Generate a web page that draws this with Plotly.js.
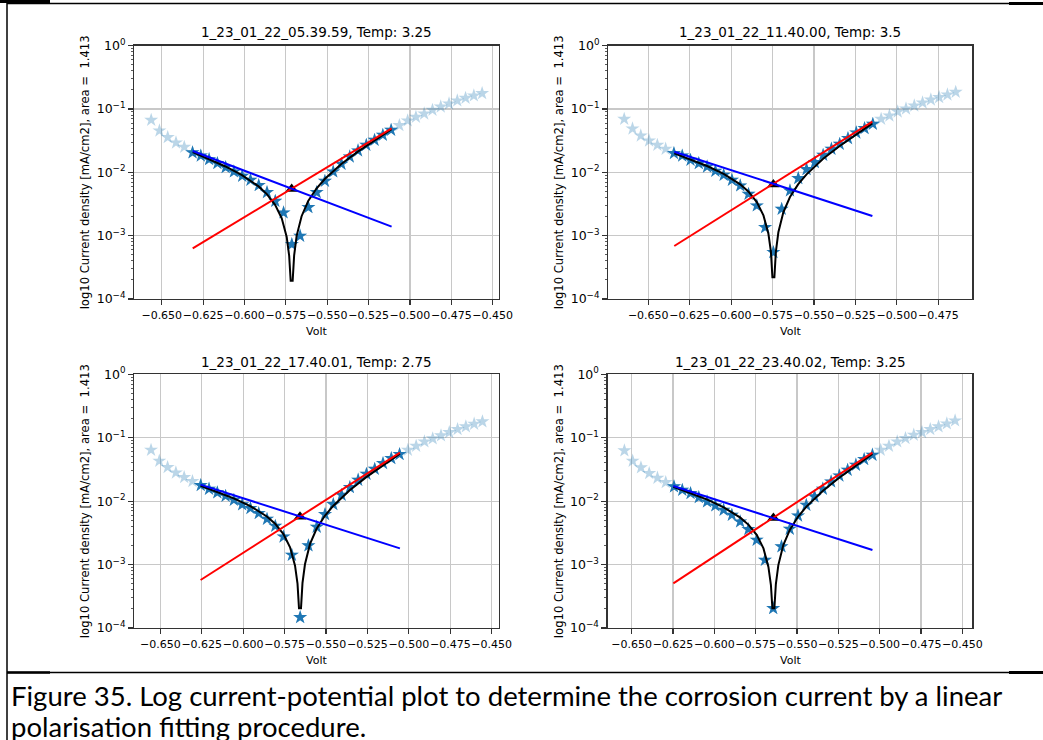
<!DOCTYPE html>
<html>
<head>
<meta charset="utf-8">
<script src="https://cdn.plot.ly/plotly-3.0.1.min.js"></script>
<style>
  html, body { margin: 0; padding: 0; background: #ffffff; }
  #chart { width: 1043px; height: 740px; }
</style>
</head>
<body>
<div id="chart"></div>
<script>
// ---------------- DATA ----------------
const titles = [
  "1_23_01_22_05.39.59, Temp: 3.25",
  "1_23_01_22_11.40.00, Temp: 3.5",
  "1_23_01_22_17.40.01, Temp: 2.75",
  "1_23_01_22_23.40.02, Temp: 3.25"
];
const xLabel = "Volt";
const yLabel = "log10 Current density [mA/cm2], area =\u00a0 1.413";
const caption1 = "Figure 35. Log current-potential plot to determine the corrosion current by a linear";
const caption2 = "polarisation fitting procedure.";
const xTickVals = [-0.650, -0.625, -0.600, -0.575, -0.550, -0.525, -0.500, -0.475, -0.450];
const yTickVals = [1, 0.1, 0.01, 0.001, 0.0001];
const yTickText = ["10<sup>0</sup>", "10<sup>\u22121</sup>", "10<sup>\u22122</sup>", "10<sup>\u22123</sup>", "10<sup>\u22124</sup>"];

// ---- plot 1 ----
const p1Volt = [-0.6564,-0.6514,-0.6464,-0.6414,-0.6364,
  -0.6314,-0.6264,-0.6214,-0.6164,-0.6114,-0.6064,-0.6014,-0.5964,-0.5914,-0.5864,-0.5814,-0.5764,-0.5714,-0.5664,-0.5614,-0.5564,-0.5514,-0.5464,-0.5414,-0.5364,-0.5314,-0.5264,-0.5214,-0.5164,-0.5114,
  -0.5064,-0.5014,-0.4964,-0.4914,-0.4864,-0.4814,-0.4764,-0.4714,-0.4664,-0.4614,-0.4564];
const p1Current = [0.0670,0.0455,0.0357,0.0294,0.0251,
  0.0205,0.0183,0.0160,0.0139,0.0120,0.01025,0.00875,0.00757,0.00624,0.00483,0.00352,0.00231,0.00073,0.00099,0.0028,0.00483,0.0073,0.01025,0.01355,0.01767,0.0220,0.0270,0.0324,0.0388,0.0466,
  0.0552,0.0655,0.0748,0.0844,0.0964,0.1089,0.1214,0.1355,0.149,0.1625,0.1767];
const p1Fit = [5, 29];
const p1CurveVolt = [-0.6313,-0.6215,-0.6115,-0.6015,-0.5915,-0.5865,-0.5815,-0.5775,-0.5745,-0.5730,-0.5721,-0.5709,-0.5700,-0.5685,-0.5655,-0.5615,-0.5565,-0.5515,-0.5415,-0.5315,-0.5215,-0.5111];
const p1CurveCurrent = [0.0209,0.0163,0.01239,0.00903,0.0060,0.00454,0.00307,0.00188,0.000954,0.00048,0.000194,0.000194,0.00049,0.000993,0.00203,0.00352,0.00555,0.00785,0.01352,0.02121,0.0319,0.048];
const p1AnodicVolt = [-0.6313, -0.5111];
const p1AnodicCurrent = [0.000631, 0.0495];
const p1CathodicVolt = [-0.6313, -0.5111];
const p1CathodicCurrent = [0.0217, 0.001387];
const p1Corr = [-0.5715, 0.00546];

// ---- plot 2 ----
const p2Volt = [-0.6645,-0.6595,-0.6545,-0.6495,-0.6445,-0.6395,
  -0.6345,-0.6295,-0.6245,-0.6195,-0.6145,-0.6095,-0.6045,-0.5995,-0.5945,-0.5895,-0.5845,-0.5795,-0.5745,-0.5695,-0.5645,-0.5595,-0.5545,-0.5495,-0.5445,-0.5395,-0.5345,-0.5295,-0.5245,-0.5195,-0.5145,
  -0.5095,-0.5045,-0.4995,-0.4945,-0.4895,-0.4845,-0.4795,-0.4745,-0.4695,-0.4645];
const p2Current = [0.0695,0.0489,0.0379,0.0316,0.0270,0.0234,
  0.0200,0.0183,0.01566,0.01387,0.01228,0.0105,0.00908,0.00757,0.00616,0.00455,0.00298,0.001355,0.000546,0.002636,0.00514,0.00804,0.01115,0.01439,0.0188,0.0234,0.0280,0.0344,0.0423,0.0495,0.0580,
  0.0695,0.0785,0.0908,0.1012,0.1129,0.1259,0.1404,0.1528,0.1683,0.1855];
const p2Fit = [6, 30];
const p2CurveVolt = [-0.6343,-0.6245,-0.6145,-0.6045,-0.5945,-0.5895,-0.5845,-0.5805,-0.5775,-0.5760,-0.5751,-0.5739,-0.5730,-0.5715,-0.5685,-0.5645,-0.5595,-0.5545,-0.5445,-0.5345,-0.5245,-0.5148];
const p2CurveCurrent = [0.01994,0.01605,0.01258,0.00944,0.00646,0.00495,0.0034,0.00209,0.00107,0.00056,0.00022,0.00022,0.00056,0.00113,0.00234,0.00408,0.00652,0.0093,0.01635,0.0261,0.040,0.0593];
const p2AnodicVolt = [-0.6343, -0.5148];
const p2AnodicCurrent = [0.000687, 0.0631];
const p2CathodicVolt = [-0.6343, -0.5148];
const p2CathodicCurrent = [0.0212, 0.00205];
const p2Corr = [-0.5745, 0.0064];

// ---- plot 3 ----
const p3Volt = [-0.6556,-0.6506,-0.6456,-0.6406,-0.6356,-0.6306,
  -0.6256,-0.6206,-0.6156,-0.6106,-0.6056,-0.6006,-0.5956,-0.5906,-0.5856,-0.5806,-0.5756,-0.5706,-0.5656,-0.5606,-0.5556,-0.5506,-0.5456,-0.5406,-0.5356,-0.5306,-0.5256,-0.5206,-0.5156,-0.5106,-0.5056,
  -0.5006,-0.4956,-0.4906,-0.4856,-0.4806,-0.4756,-0.4706,-0.4656,-0.4606,-0.4556];
const p3Current = [0.0641,0.0430,0.0342,0.0281,0.0238,0.0206,
  0.01778,0.01556,0.01362,0.01206,0.01043,0.00881,0.00771,0.00643,0.00523,0.00406,0.00275,0.001416,0.000147,0.00199,0.00392,0.0062,0.00891,0.0125,0.01652,0.0216,0.0268,0.0321,0.0395,0.0473,0.0548,
  0.0641,0.0741,0.0867,0.0968,0.1079,0.1217,0.1358,0.1496,0.1648,0.1794];
const p3Fit = [6, 30];
const p3CurveVolt = [-0.6257,-0.6157,-0.6057,-0.5957,-0.5857,-0.5807,-0.5757,-0.5717,-0.5687,-0.5672,-0.5663,-0.5651,-0.5642,-0.5627,-0.5597,-0.5557,-0.5507,-0.5457,-0.5357,-0.5257,-0.5157,-0.5054];
const p3CurveCurrent = [0.0175,0.01407,0.01108,0.00835,0.00573,0.00441,0.00303,0.00187,0.00096,0.00050,0.000204,0.000204,0.00051,0.00101,0.0021,0.00367,0.00588,0.00841,0.01485,0.02388,0.0368,0.0561];
const p3AnodicVolt = [-0.6257, -0.5054];
const p3AnodicCurrent = [0.000571, 0.0582];
const p3CathodicVolt = [-0.6257, -0.5054];
const p3CathodicCurrent = [0.0182, 0.0018];
const p3Corr = [-0.5657, 0.0057];

// ---- plot 4 ----
const p4Volt = [-0.6544,-0.6494,-0.6444,-0.6394,-0.6344,-0.6294,
  -0.6244,-0.6194,-0.6144,-0.6094,-0.6044,-0.5994,-0.5944,-0.5894,-0.5844,-0.5794,-0.5744,-0.5694,-0.5644,-0.5594,-0.5544,-0.5494,-0.5444,-0.5394,-0.5344,-0.5294,-0.5244,-0.5194,-0.5144,-0.5094,-0.5044,
  -0.4994,-0.4944,-0.4894,-0.4844,-0.4794,-0.4744,-0.4694,-0.4644,-0.4594,-0.4544];
const p4Current = [0.0626,0.0430,0.0338,0.0275,0.0232,0.0198,
  0.01694,0.0150,0.0133,0.01149,0.00982,0.00849,0.00726,0.00605,0.00475,0.0036,0.00244,0.00118,0.000204,0.00192,0.00364,0.0059,0.0087,0.01178,0.01556,0.0203,0.0252,0.031,0.0372,0.0457,0.0535,
  0.0641,0.0741,0.0867,0.098,0.1105,0.1217,0.1358,0.1496,0.1667,0.1859];
const p4Fit = [6, 30];
const p4CurveVolt = [-0.6248,-0.6143,-0.6043,-0.5943,-0.5843,-0.5793,-0.5743,-0.5703,-0.5673,-0.5658,-0.5649,-0.5637,-0.5628,-0.5613,-0.5583,-0.5543,-0.5493,-0.5443,-0.5343,-0.5243,-0.5143,-0.5044];
const p4CurveCurrent = [0.01686,0.01342,0.01057,0.00798,0.00549,0.00423,0.00291,0.0018,0.00092,0.00048,0.000204,0.000204,0.00049,0.00098,0.00203,0.00355,0.00571,0.00821,0.0146,0.02364,0.0367,0.0555];
const p4AnodicVolt = [-0.6248, -0.5044];
const p4AnodicCurrent = [0.000506, 0.0582];
const p4CathodicVolt = [-0.6248, -0.5044];
const p4CathodicCurrent = [0.01734, 0.0017];
const p4Corr = [-0.5643, 0.0054];

// ---------------- LAYOUT GEOMETRY (pixels in the 1043x740 page) ----------------
const W = 1043, H = 740;
const FONT = "DejaVu Sans";
const panels = [
  {volt:p1Volt, cur:p1Current, fit:p1Fit, cv:p1CurveVolt, cc:p1CurveCurrent, av:p1AnodicVolt, ac:p1AnodicCurrent, kv:p1CathodicVolt, kc:p1CathodicCurrent, corr:p1Corr,
   box:[134.3, 499.0, 45.7, 299.0], xr:[-0.6666, -0.4462], titleY:32, voltY:331, ylabX:85},
  {volt:p2Volt, cur:p2Current, fit:p2Fit, cv:p2CurveVolt, cc:p2CurveCurrent, av:p2AnodicVolt, ac:p2AnodicCurrent, kv:p2CathodicVolt, kc:p2CathodicCurrent, corr:p2Corr,
   box:[608.3, 972.3, 45.7, 299.0], xr:[-0.6741, -0.4545], titleY:32, voltY:331, ylabX:559},
  {volt:p3Volt, cur:p3Current, fit:p3Fit, cv:p3CurveVolt, cc:p3CurveCurrent, av:p3AnodicVolt, ac:p3AnodicCurrent, kv:p3CathodicVolt, kc:p3CathodicCurrent, corr:p3Corr,
   box:[134.3, 499.0, 374.3, 628.0], xr:[-0.6657, -0.4456], titleY:362, voltY:660, ylabX:85},
  {volt:p4Volt, cur:p4Current, fit:p4Fit, cv:p4CurveVolt, cc:p4CurveCurrent, av:p4AnodicVolt, ac:p4AnodicCurrent, kv:p4CathodicVolt, kc:p4CathodicCurrent, corr:p4Corr,
   box:[607.7, 972.3, 374.3, 628.0], xr:[-0.6645, -0.4440], titleY:362, voltY:660, ylabX:559}
];

const px = v => v / W;
const py = v => 1 - v / H;

const minorVals = [];
[0.0001, 0.001, 0.01, 0.1].forEach(d => { for (let k = 2; k <= 9; k++) minorVals.push(k * d); });

const traces = [];
const layout = {
  width: W, height: H,
  margin: {l: 0, r: 0, t: 0, b: 0},
  paper_bgcolor: "#ffffff", plot_bgcolor: "#ffffff",
  showlegend: false,
  font: {family: FONT, color: "#000"},
  annotations: [], shapes: []
};

panels.forEach((p, i) => {
  const n = i === 0 ? "" : String(i + 1);
  const xa = "x" + n, ya = "y" + n;
  traces.push({type: "scatter", mode: "markers", x: p.volt, y: p.cur, xaxis: xa, yaxis: ya,
    marker: {symbol: "star", size: 10.5, color: "rgba(31,119,180,0.3)", line: {width: 0}}, hoverinfo: "skip"});
  traces.push({type: "scatter", mode: "markers", x: p.volt.slice(p.fit[0], p.fit[1] + 1), y: p.cur.slice(p.fit[0], p.fit[1] + 1), xaxis: xa, yaxis: ya,
    marker: {symbol: "star", size: 10.5, color: "#1f77b4", line: {width: 0}}, hoverinfo: "skip"});
  traces.push({type: "scatter", mode: "lines", x: p.cv, y: p.cc, xaxis: xa, yaxis: ya,
    line: {color: "#000000", width: 2}, hoverinfo: "skip"});
  traces.push({type: "scatter", mode: "markers", x: [p.corr[0]], y: [p.corr[1]], xaxis: xa, yaxis: ya,
    marker: {symbol: "triangle-up", size: 11, color: "#000000"}, hoverinfo: "skip"});
  traces.push({type: "scatter", mode: "lines", x: p.av, y: p.ac, xaxis: xa, yaxis: ya,
    line: {color: "#ff0000", width: 2}, hoverinfo: "skip"});
  traces.push({type: "scatter", mode: "lines", x: p.kv, y: p.kc, xaxis: xa, yaxis: ya,
    line: {color: "#0000ff", width: 2}, hoverinfo: "skip"});

  const [l, r, t, b] = p.box;
  layout["xaxis" + n] = {
    domain: [px(l), px(r)], anchor: ya, range: p.xr,
    tickmode: "array", tickvals: xTickVals, tickformat: ".3f", tickangle: 0,
    ticks: "outside", ticklen: 5, tickwidth: 1.1, tickcolor: "#333",
    showline: true, mirror: true, linecolor: "#333", linewidth: 1.3,
    showgrid: true, gridcolor: "#c8c8c8", gridwidth: 1.2, zeroline: false,
    tickfont: {family: FONT, size: 11, color: "#000"}, fixedrange: true
  };
  layout["yaxis" + n] = {
    domain: [py(b), py(t)], anchor: xa, type: "log", range: [-4, 0],
    tickmode: "array", tickvals: yTickVals, ticktext: yTickText,
    ticks: "outside", ticklen: 5, tickwidth: 1.1, tickcolor: "#333",
    minor: {tickmode: "array", tickvals: minorVals, ticks: "outside", ticklen: 2.5, tickwidth: 0.8, tickcolor: "#333", showgrid: false},
    showline: true, mirror: true, linecolor: "#333", linewidth: 1.3,
    showgrid: true, gridcolor: "#c8c8c8", gridwidth: 1.2, zeroline: false,
    tickfont: {family: FONT, size: 12.5, color: "#000"}, fixedrange: true
  };
  const cx = (l + r) / 2;
  layout.annotations.push({text: titles[i], xref: "paper", yref: "paper", x: px(cx), y: py(p.titleY),
    xanchor: "center", yanchor: "middle", showarrow: false, font: {family: FONT, size: 13.5, color: "#000"}});
  layout.annotations.push({text: xLabel, xref: "paper", yref: "paper", x: px(cx), y: py(p.voltY),
    xanchor: "center", yanchor: "middle", showarrow: false, font: {family: FONT, size: 11, color: "#000"}});
  layout.annotations.push({text: yLabel, xref: "paper", yref: "paper", x: px(p.ylabX), y: py((t + b) / 2),
    xanchor: "center", yanchor: "middle", textangle: -90, showarrow: false, font: {family: FONT, size: 11.6, color: "#000"}});
});

// caption
layout.annotations.push({text: caption1, xref: "paper", yref: "paper", x: px(9), y: py(695),
  xanchor: "left", yanchor: "middle", showarrow: false, font: {family: "Lato", size: 27.5, color: "#000"}});
layout.annotations.push({text: caption2, xref: "paper", yref: "paper", x: px(9), y: py(726),
  xanchor: "left", yanchor: "middle", showarrow: false, font: {family: "Lato", size: 27.5, color: "#000"}});

// document frame lines
const seg = (x0, y0, x1, y1, w) => ({type: "line", xref: "paper", yref: "paper",
  x0: px(x0), y0: py(y0), x1: px(x1), y1: py(y1), line: {color: "#000", width: w}, layer: "above"});
layout.shapes.push(seg(7, 3.5, 1043, 3.5, 1.3));
layout.shapes.push(seg(0, 1.5, 50, 1.5, 3));
layout.shapes.push(seg(1009, 3.5, 1043, 3.5, 3));
layout.shapes.push(seg(7, 0, 7, 740, 1.5));
layout.shapes.push(seg(7, 672.5, 1043, 672.5, 1.3));
layout.shapes.push(seg(7, 672.5, 50, 672.5, 2.5));
layout.shapes.push(seg(1009, 672.5, 1043, 672.5, 3));

Plotly.newPlot("chart", traces, layout, {staticPlot: true, displayModeBar: false});
</script>
</body>
</html>
